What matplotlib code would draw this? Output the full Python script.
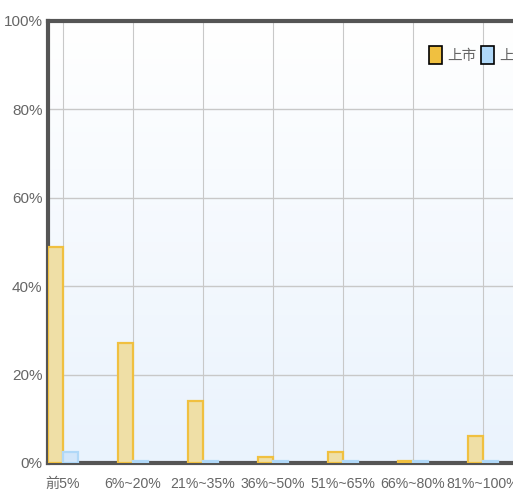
import numpy as np
import matplotlib
matplotlib.use("Agg")
import matplotlib.pyplot as plt
from matplotlib.patches import Patch

plt.rcParams['font.family'] = ['Liberation Sans', 'Noto Sans CJK TC', 'DejaVu Sans']

categories = ["前5%", "6%~20%", "21%~35%", "36%~50%", "51%~65%", "66%~80%", "81%~100%"]
listed = [48.9, 27.1, 14.0, 1.3, 2.6, 0.5, 6.1]
otc = [2.4, 0.5, 0.5, 0.5, 0.5, 0.5, 0.5]
series_names = ["上市", "上櫃"]
yticks = [0, 20, 40, 60, 80, 100]

W, H = 513, 492
fig = plt.figure(figsize=(W / 100, H / 100), dpi=100)
ax = fig.add_axes([48 / W, (H - 463) / H, (W - 48) / W, (463 - 21) / H])

x = np.arange(len(categories))
bw = 0.22
xmin, xmax = -15 / 70, 6 + 30 / 70

# background gradient
grad = np.linspace(0, 1, 256).reshape(-1, 1)
cmap = matplotlib.colors.LinearSegmentedColormap.from_list("bg", ["#ffffff", "#eaf3fd"])
ax.imshow(grad, extent=[xmin, xmax, 0, 100], aspect="auto", cmap=cmap, origin="upper", zorder=0)

for yv in yticks[1:-1]:
    ax.axhline(yv, color="#c8c8c8", lw=1, zorder=1)
for xv in x:
    ax.axvline(xv, color="#c8c8c8", lw=0.8, zorder=1)

ax.bar(x - bw / 2, listed, bw, color="#efdfa6", edgecolor="#f0c040", lw=1.6, zorder=3)
ax.bar(x + bw / 2, otc, bw, color="#d2e6fa", edgecolor="#b0d8f8", lw=1.6, zorder=3)

ax.set_xlim(xmin, xmax)
ax.set_ylim(0, 100)
ax.set_yticks(yticks)
ax.set_yticklabels(["%d%%" % v for v in yticks])
ax.set_xticks(x)
ax.set_xticklabels(categories)
ax.tick_params(length=0, colors="#666666", labelsize=10.2)
ax.tick_params(axis="y", pad=4, labelsize=11)
ax.tick_params(axis="x", pad=10)

for s in ["left", "bottom", "top"]:
    ax.spines[s].set_color("#555555")
    ax.spines[s].set_linewidth(3)
ax.spines["right"].set_visible(False)

handles = [Patch(facecolor="#f0c040", edgecolor="black", lw=1.2),
           Patch(facecolor="#b0d8f8", edgecolor="black", lw=1.2)]
leg = fig.legend(handles, series_names, loc="upper left", bbox_to_anchor=(422 / W, (H - 39) / H),
                 ncol=2, frameon=False, handlelength=0.9, handleheight=1.5,
                 handletextpad=0.35, columnspacing=0.3, borderpad=0,
                 prop={"size": 10.5})
for t in leg.get_texts():
    t.set_color("#666666")

fig.savefig("out.png", dpi=100)
